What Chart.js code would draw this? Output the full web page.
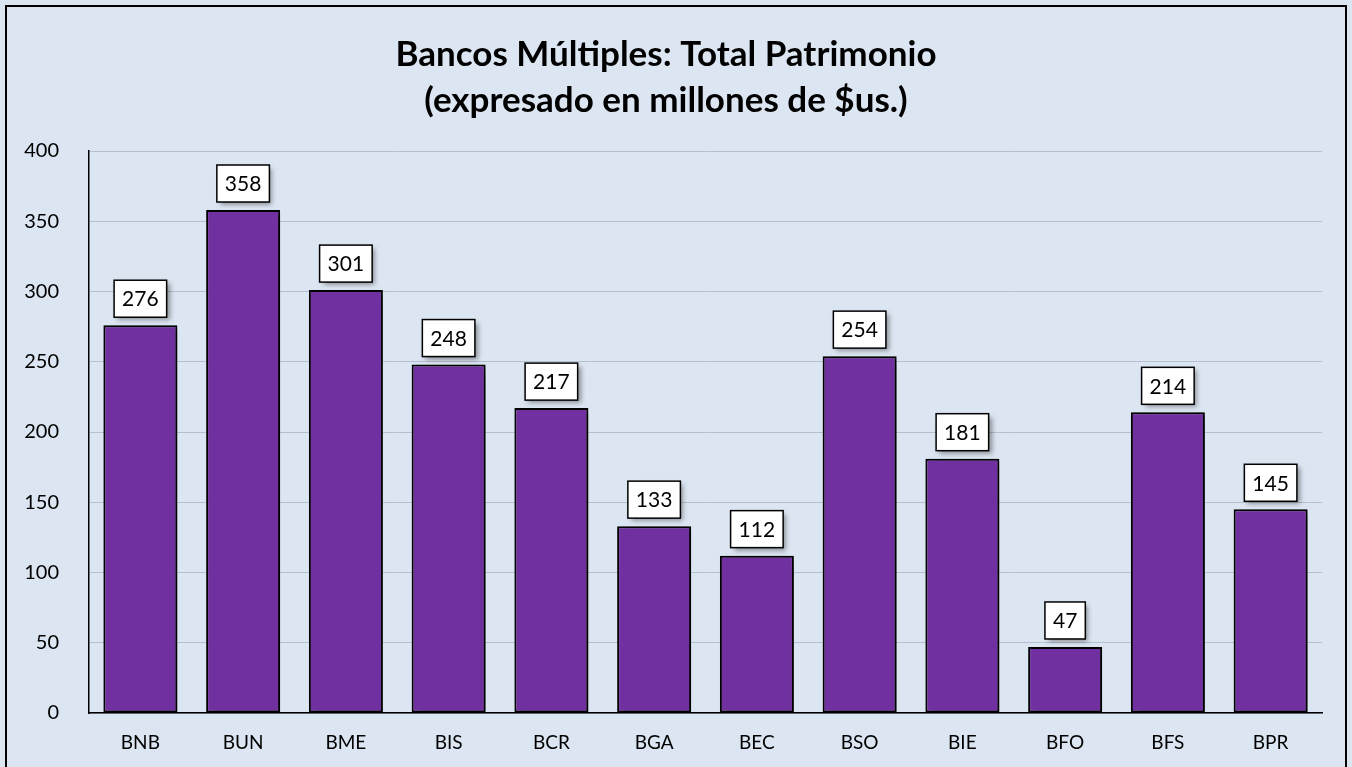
<!DOCTYPE html>
<html>
<head>
<meta charset="utf-8">
<script src="https://cdn.jsdelivr.net/npm/chart.js@4.4.1/dist/chart.umd.min.js"></script>
<style>
html,body{margin:0;padding:0;background:#DCE6F2;}
#wrap{position:relative;width:1352px;height:767px;}
</style>
</head>
<body>
<div id="wrap"><canvas id="c" width="1352" height="767"></canvas></div>
<script>
const categories = ['BNB','BUN','BME','BIS','BCR','BGA','BEC','BSO','BIE','BFO','BFS','BPR'];
const patrimonio = [276,358,301,248,217,133,112,254,181,47,214,145];
const titleLines = ['Bancos Múltiples: Total Patrimonio','(expresado en millones de $us.)'];
const yTicks = [0,50,100,150,200,250,300,350,400];

const FONT = "Lato, 'Open Sans', 'Liberation Sans', sans-serif";

const bgPlugin = {
  id: 'bg',
  beforeDraw(chart){
    const ctx = chart.ctx;
    ctx.save();
    ctx.fillStyle = '#DCE6F2';
    ctx.fillRect(0,0,chart.width,chart.height);
    ctx.strokeStyle = '#000';
    ctx.lineWidth = 2;
    ctx.strokeRect(6,6,chart.width-12,chart.height+10);
    ctx.restore();
  }
};

const shadowPlugin = {
  id: 'barShadow',
  beforeDatasetDraw(chart){
    const ctx = chart.ctx;
    ctx.save();
    ctx.shadowColor = 'rgba(0,0,0,0.5)';
    ctx.shadowBlur = 7;
    ctx.shadowOffsetX = 5;
    ctx.shadowOffsetY = 3;
  },
  afterDatasetDraw(chart){
    chart.ctx.restore();
  }
};

const labelPlugin = {
  id: 'valueBoxes',
  afterDatasetsDraw(chart){
    const ctx = chart.ctx;
    const meta = chart.getDatasetMeta(0);
    ctx.save();
    ctx.font = "21px " + FONT;
    ctx.textAlign = 'center';
    ctx.textBaseline = 'middle';
    meta.data.forEach((bar, i) => {
      const txt = String(chart.data.datasets[0].data[i]);
      const tw = ctx.measureText(txt).width;
      const w = tw + 16, h = 37;
      const x = bar.x - w/2;
      const y = bar.y - 8 - h;
      ctx.save();
      ctx.shadowColor = 'rgba(0,0,0,0.4)';
      ctx.shadowBlur = 5;
      ctx.shadowOffsetX = 3;
      ctx.shadowOffsetY = 3;
      ctx.fillStyle = '#fff';
      ctx.fillRect(x,y,w,h);
      ctx.restore();
      ctx.strokeStyle = '#000';
      ctx.lineWidth = 1.5;
      ctx.strokeRect(x,y,w,h);
      ctx.fillStyle = '#000';
      ctx.fillText(txt, bar.x, y + h/2 + 1);
    });
    ctx.restore();
  }
};

new Chart(document.getElementById('c'), {
  type: 'bar',
  data: {
    labels: categories,
    datasets: [{
      data: patrimonio,
      backgroundColor: '#7030A0',
      borderColor: '#000',
      borderWidth: 2,
      borderSkipped: false,
      barPercentage: 0.72,
      categoryPercentage: 1.0
    }]
  },
  options: {
    responsive: false,
    animation: false,
    devicePixelRatio: 1,
    layout: { padding: { top: 22, right: 30, left: 10, bottom: 0 } },
    plugins: {
      legend: { display: false },
      tooltip: { enabled: false },
      title: {
        display: true,
        text: titleLines,
        color: '#000',
        font: { family: FONT, size: 35, weight: 'bold', lineHeight: 1.3 },
        padding: { top: 10, bottom: 28 }
      }
    },
    scales: {
      x: {
        grid: { display: false, drawTicks: false },
        border: { color: '#000', width: 1.5 },
        ticks: { color: '#000', font: { family: FONT, size: 19 }, padding: 18 },
        afterFit(s){ s.height = 54; }
      },
      y: {
        min: 0, max: 400,
        afterBuildTicks(s){ s.ticks = yTicks.map(v => ({value: v})); },
        grid: { color: '#B4C0CD', lineWidth: 1, drawTicks: false },
        border: { color: '#000', width: 1.5 },
        ticks: { color: '#000', font: { family: FONT, size: 20 }, padding: 30 },
        afterFit(s){ s.width = 79; }
      }
    }
  },
  plugins: [bgPlugin, shadowPlugin, labelPlugin]
});
</script>
</body>
</html>
